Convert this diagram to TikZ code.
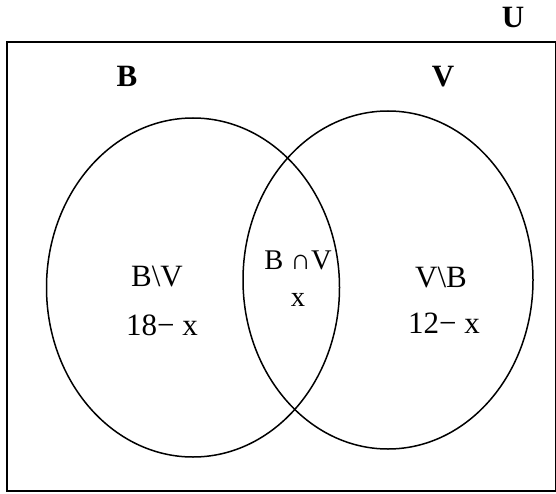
\documentclass[tikz,border=0pt]{standalone}
\usepackage{fontspec}
\setmainfont{Liberation Serif}
\begin{document}
\begin{tikzpicture}[x=1pt,y=-1pt,
  lbl/.style={inner sep=0pt,anchor=base,font=\fontsize{31}{36}\selectfont},
  blbl/.style={lbl,font=\fontsize{31}{36}\selectfont\bfseries},
  slbl/.style={inner sep=0pt,anchor=base,font=\fontsize{28.5}{33}\selectfont},
  setline/.style={line width=1.5pt}]
\useasboundingbox (0,0) rectangle (556,494);
\draw[line width=2pt] (6.5,42.5) rectangle (556,491);
\draw[setline] (193,287.5) ellipse [x radius=146.5, y radius=169.5];
\draw[setline] (388,280) ellipse [x radius=145, y radius=169];
\node[blbl] (U) at (513,28) {U};
\node[blbl] (B) at (127,87) {B};
\node[blbl] (V) at (443,87) {V};
\node[lbl] (BV) at (157,286) {B\textbackslash V};
\node[lbl] (BVn) at (162,335) {18− x};
\node[slbl] (I) at (298,269) {B ∩V};
\node[slbl] (In) at (298,306) {x};
\node[lbl] (VB) at (441,287) {V\textbackslash B};
\node[lbl] (VBn) at (444,333) {12− x};
\end{tikzpicture}
\end{document}
